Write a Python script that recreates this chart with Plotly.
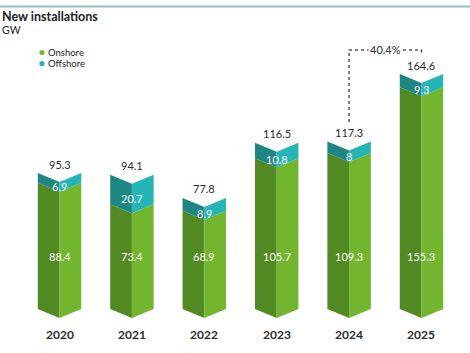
import plotly.graph_objects as go

years = ["2020", "2021", "2022", "2023", "2024", "2025"]
onshore = [88.4, 73.4, 68.9, 105.7, 109.3, 155.3]
offshore = [6.9, 20.7, 8.9, 10.8, 8.0, 9.3]
totals = [95.3, 94.1, 77.8, 116.5, 117.3, 164.6]
growth_label = "40.4%"
series_names = ["Onshore", "Offshore"]
series_colors = ["#76bb33", "#26b3b8"]

ON_DARK, ON_LIGHT = "#518a23", "#72b52f"
OFF_DARK, OFF_LIGHT = "#1e8784", "#25b5b6"
TXT = "#2b2b2b"
FONT = "Lato"
W, H = 470, 353

HW = 0.30   # half width of prism in x units
DIP = 6.3   # V depth in data units

fig = go.Figure()

def face(c, y0, y1, side, color):
    if side == "L":
        xs = [c - HW, c, c, c - HW, c - HW]
        ys = [y0, y0 - DIP, y1 - DIP, y1, y0]
    else:
        xs = [c, c + HW, c + HW, c, c]
        ys = [y0 - DIP, y0, y1, y1 - DIP, y0 - DIP]
    fig.add_trace(go.Scatter(x=xs, y=ys, fill="toself", fillcolor=color,
                             mode="lines", line=dict(width=0, color=color),
                             hoverinfo="skip", showlegend=False))

for i, y in enumerate(years):
    on, off, tot = onshore[i], offshore[i], totals[i]
    face(i, 0, on, "L", ON_DARK)
    face(i, 0, on, "R", ON_LIGHT)
    face(i, on, on + off, "L", OFF_DARK)
    face(i, on, on + off, "R", OFF_LIGHT)
    fig.add_annotation(x=i, y=tot, text=f"{tot:g}", showarrow=False, yshift=9,
                       font=dict(family=FONT, size=11, color=TXT))
    fig.add_annotation(x=i, y=on + off / 2 - DIP, text=f"{off:g}", showarrow=False,
                       font=dict(family=FONT, size=11, color="white"))
    fig.add_annotation(x=i, y=36.5, text=f"{on:g}", showarrow=False,
                       font=dict(family=FONT, size=11, color="white"))
    fig.add_annotation(x=i, y=-DIP, text=f"<b>{y}</b>", showarrow=False, yshift=-16,
                       font=dict(family=FONT, size=12, color=TXT))

# growth bracket between 2024 and 2025
top_y = 181.5
fig.add_trace(go.Scatter(x=[4, 4, 5, 5], y=[131, top_y, top_y, 178], mode="lines",
                         line=dict(color="#555555", width=1.5, dash="dot"),
                         hoverinfo="skip", showlegend=False))
fig.add_annotation(x=4.5, y=top_y, text=growth_label, showarrow=False, bgcolor="white",
                   font=dict(family=FONT, size=11, color=TXT), borderpad=1)

# legend (manual, compact)
for k, (name, col) in enumerate(zip(series_names, series_colors)):
    cy = 1 - (52.5 + 11 * k) / H
    r = 2.6
    fig.add_shape(type="circle", xref="paper", yref="paper",
                  x0=(42 - r) / W, x1=(42 + r) / W, y0=cy - r / H, y1=cy + r / H,
                  fillcolor=col, line=dict(width=0))
    fig.add_annotation(xref="paper", yref="paper", x=47 / W, y=cy, xanchor="left",
                       yanchor="middle", text=name, showarrow=False, borderpad=0,
                       font=dict(family=FONT, size=9.5, color="#222"))

# title
fig.add_annotation(xref="paper", yref="paper", x=0.0, y=1 - 17 / H, xanchor="left",
                   yanchor="middle", text="<b>New installations</b>", showarrow=False,
                   font=dict(family=FONT, size=12.5, color="#222"))
fig.add_annotation(xref="paper", yref="paper", x=0.0, y=1 - 30 / H, xanchor="left",
                   yanchor="middle", text="GW", showarrow=False,
                   font=dict(family=FONT, size=10.5, color="#222"))
fig.add_shape(type="line", xref="paper", yref="paper", x0=0, x1=1,
              y0=1 - 6.5 / H, y1=1 - 6.5 / H, line=dict(color="#93bccb", width=2))

fig.update_layout(
    width=W, height=H, margin=dict(l=0, r=0, t=0, b=0),
    plot_bgcolor="white", paper_bgcolor="white",
    xaxis=dict(range=[-0.822, 5.67], visible=False, fixedrange=True),
    yaxis=dict(range=[-30.8, 216.5], visible=False, fixedrange=True),
    showlegend=False,
)

fig.write_html("out.html")
